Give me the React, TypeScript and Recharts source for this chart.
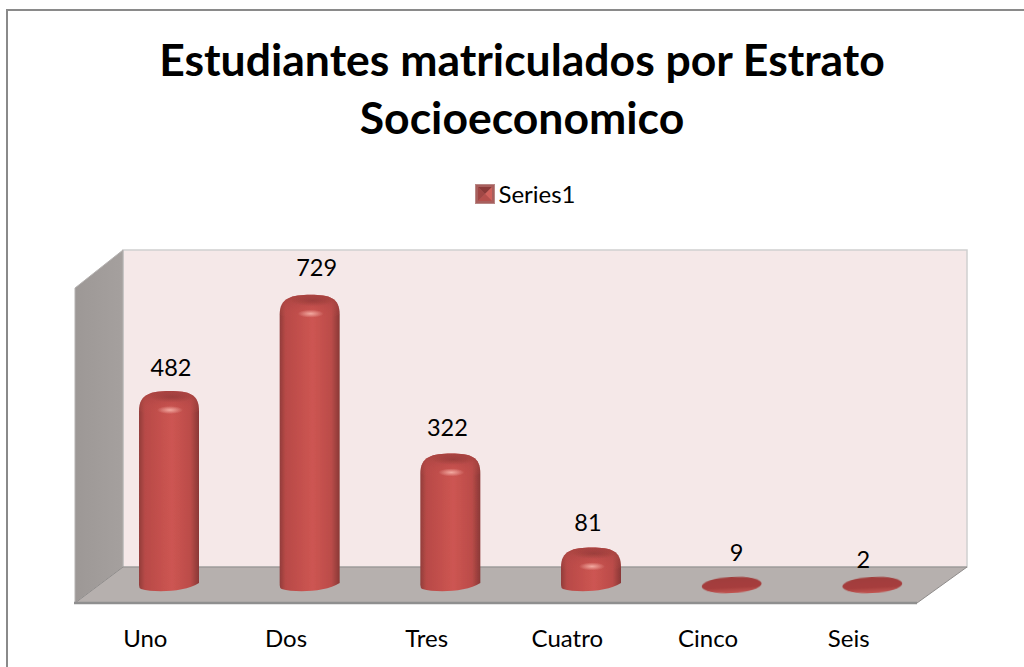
import { BarChart, Bar, XAxis, YAxis, Legend, LabelList } from "recharts";

const categories = ["Uno", "Dos", "Tres", "Cuatro", "Cinco", "Seis"];
const students = [482, 729, 322, 81, 9, 2];

// hand nudges for the value labels, the original ones sit a bit uneven
const labelShiftX = [2, 7, -3, -3, 5, -9];
const labelLift = [26, 30, 28, 27, 25, 21];

const data = categories.map((name, i) => ({ name, value: students[i] }));

const FONT = "Lato, 'Open Sans', sans-serif";
const DISK_LIMIT = 8;

function Cylinder(props: any) {
  const { x, y, width, height } = props;
  const cx = x + width / 2;
  const right = x + width;
  const base = y + height;

  // the two smallest values are nothing but a flat disk on the floor
  if (height < DISK_LIMIT) {
    return (
      <g transform={`rotate(-3 ${cx} ${base - 5})`} filter="url(#soften)">
        <ellipse cx={cx} cy={base - 5} rx={width / 2} ry={8} fill="url(#diskFill)" />
      </g>
    );
  }

  const shoulder = y + 9;
  const capTop = y - 11;
  const body = `M${x},${base - 5} L${x},${shoulder} C${x},${capTop + 3} ${cx - 18},${capTop} ${cx + 1},${capTop}
    C${cx + 20},${capTop} ${right},${capTop + 3} ${right},${shoulder} L${right},${base - 7}
    C${right - 14},${base + 2} ${x + 16},${base + 3} ${x + 2},${base - 1} Q${x},${base - 2} ${x},${base - 5} Z`;
  const cap = `M${x},${shoulder} C${x},${capTop + 3} ${cx - 18},${capTop} ${cx + 1},${capTop}
    C${cx + 20},${capTop} ${right},${capTop + 3} ${right},${shoulder}
    C${right - 14},${y + 15} ${x + 14},${y + 15} ${x},${shoulder} Z`;

  return (
    <g filter="url(#soften)">
      <path d={body} fill="url(#cylinderBody)" />
      <path d={cap} fill="url(#cylinderCap)" />
      <ellipse cx={cx + 3} cy={y - 5} rx={22} ry={5.5} fill="url(#capShade)" />
      <ellipse cx={cx + 1} cy={y + 8} rx={13} ry={4} fill="url(#capGlow)" />
    </g>
  );
}

function ValueLabel(props: any) {
  const { x, y, width, value, index } = props;
  return (
    <text
      x={x + width / 2 + labelShiftX[index]}
      y={y - labelLift[index]}
      textAnchor="middle"
      fontFamily={FONT}
      fontSize={23.5}
      fill="#000"
    >
      {value}
    </text>
  );
}

function CategoryTick(props: any) {
  const { x, y, payload } = props;
  return (
    <text x={x - 24} y={y} textAnchor="middle" fontFamily={FONT} fontSize={24} fill="#000">
      {payload.value}
    </text>
  );
}

function LegendBox() {
  return (
    <div style={{ display: "flex", alignItems: "center", justifyContent: "center", fontFamily: FONT, fontSize: 24 }}>
      <svg width={20} height={20} style={{ marginRight: 3 }}>
        <rect width={20} height={20} fill="#a85f5d" />
        <polygon points="3,3 17,3 10,10" fill="#8a3a39" />
        <polygon points="3,3 3,17 10,10" fill="#a04745" />
        <polygon points="17,3 17,17 10,10" fill="#d0615c" />
        <polygon points="3,17 17,17 10,10" fill="#b54f4c" />
        <rect x={0.5} y={0.5} width={19} height={19} fill="none" stroke="#b98785" />
      </svg>
      <span>Series1</span>
    </div>
  );
}

export default function App() {
  return (
    <div style={{ position: "absolute", left: 0, top: 0, width: 1024, height: 667, background: "#fff", overflow: "hidden" }}>
      <div
        style={{
          position: "absolute",
          left: 6,
          top: 9,
          width: 1018,
          height: 658,
          boxSizing: "border-box",
          borderTop: "2px solid #8a8a8a",
          borderLeft: "2px solid #8a8a8a",
        }}
      />
      <BarChart
        width={1024}
        height={667}
        data={data}
        margin={{ top: 278, right: 81, bottom: 0, left: 99 }}
        style={{ position: "absolute", left: 0, top: 0 }}
      >
        <defs>
          <filter id="soften" x="-10%" y="-10%" width="120%" height="120%">
            <feGaussianBlur stdDeviation="0.6" />
          </filter>
          <linearGradient id="cylinderBody" x1="0" y1="0" x2="1" y2="0">
            <stop offset="0" stopColor="#923d3b" />
            <stop offset="0.1" stopColor="#b84a47" />
            <stop offset="0.55" stopColor="#cd5552" />
            <stop offset="0.86" stopColor="#bb4c49" />
            <stop offset="1" stopColor="#893836" />
          </linearGradient>
          <linearGradient id="cylinderCap" x1="0" y1="0" x2="0" y2="1">
            <stop offset="0" stopColor="#a03f3d" stopOpacity="0.85" />
            <stop offset="0.6" stopColor="#b84a47" stopOpacity="0.3" />
            <stop offset="1" stopColor="#c2504d" stopOpacity="0" />
          </linearGradient>
          <radialGradient id="capShade">
            <stop offset="0" stopColor="#8a3634" stopOpacity="0.6" />
            <stop offset="1" stopColor="#8a3634" stopOpacity="0" />
          </radialGradient>
          <radialGradient id="capGlow">
            <stop offset="0" stopColor="#f2a9a0" />
            <stop offset="1" stopColor="#f2a9a0" stopOpacity="0" />
          </radialGradient>
          <linearGradient id="diskFill" x1="0" y1="0" x2="0" y2="1">
            <stop offset="0" stopColor="#a03c3b" />
            <stop offset="0.65" stopColor="#a63e3d" />
            <stop offset="1" stopColor="#c25552" />
          </linearGradient>
          <linearGradient id="sideWall" x1="0" y1="0" x2="1" y2="0">
            <stop offset="0" stopColor="#9d9896" />
            <stop offset="1" stopColor="#a5a09e" />
          </linearGradient>
        </defs>

        {/* fake 3d room behind the bars */}
        <g>
          <polygon points="123,250 967,250 967,567 123,567" fill="#f5e8e8" stroke="#cfcfcf" strokeWidth={1.5} />
          <polygon points="75,288 123,250 123,567 75,603" fill="url(#sideWall)" stroke="#b5b2b1" />
          <polygon points="75,603 123,567 967,567 917,603" fill="#b6b0ae" stroke="#8f8c8b" />
          <line x1={74} y1={603} x2={917} y2={603} stroke="#8f8f8f" strokeWidth={2.5} />
        </g>

        <text x={522} y={76} textAnchor="middle" fontFamily={FONT} fontWeight={700} fontSize={44.5} fill="#000">
          Estudiantes matriculados por Estrato
        </text>
        <text x={522} y={134} textAnchor="middle" fontFamily={FONT} fontWeight={700} fontSize={44.5} fill="#000">
          Socioeconomico
        </text>

        <XAxis
          dataKey="name"
          axisLine={false}
          tickLine={false}
          height={77}
          tickMargin={51}
          interval={0}
          tick={CategoryTick}
        />
        <YAxis hide domain={[0, 800]} />
        <Legend
          layout="horizontal"
          align="center"
          verticalAlign="middle"
          content={LegendBox}
          wrapperStyle={{ top: 179, left: 0, width: 1051, margin: 0 }}
        />
        <Bar dataKey="value" barSize={60} shape={Cylinder} isAnimationActive={false}>
          <LabelList dataKey="value" content={ValueLabel} />
        </Bar>
      </BarChart>
    </div>
  );
}
